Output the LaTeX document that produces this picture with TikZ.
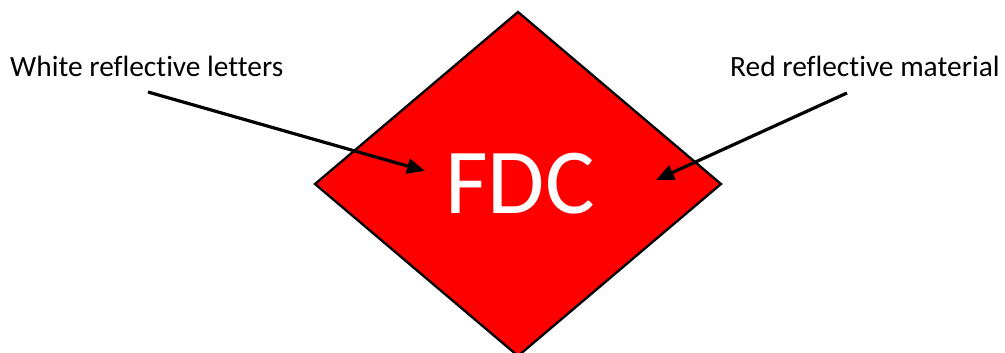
\documentclass[tikz,border=0pt]{standalone}
\usepackage{fontspec}
\setmainfont{Carlito}[Ligatures=CommonOff]
\usetikzlibrary{arrows.meta}
\tikzset{
  lbl/.style={anchor=base west,inner sep=0pt,font=\fontsize{29.4}{32}\selectfont},
  pointer/.style={line width=3.2pt,-{Triangle[length=18pt,width=15pt]}},
}
\begin{document}
\begin{tikzpicture}[x=1pt,y=-1pt]
\useasboundingbox (0,0) rectangle (1005,353);
\draw[line width=2.3pt,fill=red,line join=miter] (518,12) -- (721,184) -- (518,356) -- (315,184) -- cycle;
\node[anchor=base,inner sep=0pt,text=white,font=\fontsize{93}{96}\selectfont] (fdc) at (520,213) {FDC};
\node[lbl] (wl) at (10,77) {White reflective letters};
\node[lbl] (rm) at (730,77) {Red reflective material};
\coordinate (s1) at (148,92);
\coordinate (t1) at (425,171);
\coordinate (s2) at (847,93);
\coordinate (t2) at (656,180);
\draw[pointer] (s1) -- (t1);
\draw[pointer] (s2) -- (t2);
\end{tikzpicture}
\end{document}
